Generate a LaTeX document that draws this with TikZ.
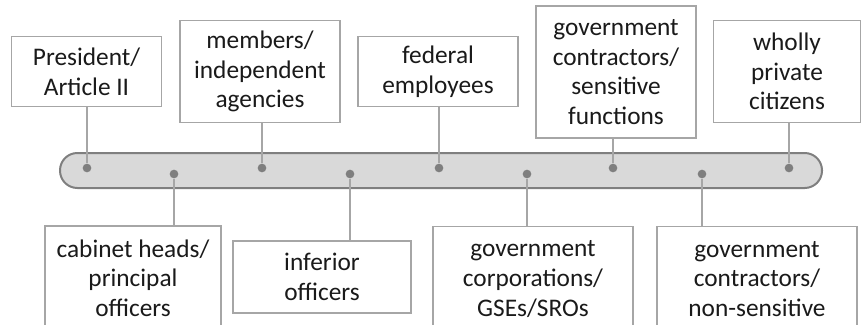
\documentclass[tikz,border=0pt]{standalone}
\usepackage{fontspec}
\setmainfont{Carlito}
\usetikzlibrary{positioning,calc}
\definecolor{barfill}{HTML}{D9D9D9}
\definecolor{barline}{HTML}{7F7F7F}
\definecolor{boxline}{HTML}{A6A6A6}
\definecolor{txt}{HTML}{1A1A1A}
\tikzset{
  bar/.style  = { draw=barline, fill=barfill, line width=1.5pt, rounded corners=13pt },
  dot/.style  = { fill=barline, circle, inner sep=0pt, minimum size=6.5pt },
  lbl/.style  = { draw=boxline, line width=0.9pt, fill=white, align=center, inner sep=1pt,
    text=txt, font=\fontsize{19}{22.2}\selectfont },
  conn/.style = { draw=boxline, line width=1pt }
}

\begin{document}
\begin{tikzpicture}[x=0.75pt,y=-0.75pt]
  \useasboundingbox (0,0) rectangle (861,325);
  \clip (0,0) rectangle (861,325);
  % the bar
  \draw[bar] (60,153) rectangle (822,188);
  \node[dot] (d1) at (87,168) {};
  \node[dot] (d2) at (174,174) {};
  \node[dot] (d3) at (262,168) {};
  \node[dot] (d4) at (350,174) {};
  \node[dot] (d5) at (439,168) {};
  \node[dot] (d6) at (527,174) {};
  \node[dot] (d7) at (613,168) {};
  \node[dot] (d8) at (702,174) {};
  \node[dot] (d9) at (789,168) {};

  % above the bar
  \node[lbl, minimum width=113pt, minimum height=53pt] (pres) at (86.5,71.5) {President/\\Article II};
  \node[lbl, minimum width=120pt, minimum height=76pt] (memb) at (260,71.5) {members/\\independent\\agencies};
  \node[lbl, minimum width=120pt, minimum height=53pt] (fed) at (438,71.5) {federal\\employees};
  \node[lbl, minimum width=120pt, minimum height=99pt] (sens) at (616,72) {government\\contractors/\\sensitive\\functions};
  \node[lbl, minimum width=110pt, minimum height=76pt] (priv) at (787,71.5) {wholly\\private\\citizens};

  % below the bar
  \node[lbl, minimum width=132pt, minimum height=78pt] (cab) at (133,278) {cabinet heads/\\principal\\officers};
  \node[lbl, minimum width=133.5pt, minimum height=54pt] (inf) at (322,277) {inferior\\officers};
  \node[lbl, minimum width=150pt, minimum height=79pt] (corp) at (533,279) {government\\corporations/\\GSEs/SROs};
  \node[lbl, minimum width=150pt, minimum height=79pt] (nons) at (757,279) {government\\contractors/\\non-sensitive};

  \path[conn] (d1 |- pres.south) edge (d1);
  \path[conn] (d3 |- memb.south) edge (d3);
  \path[conn] (d5 |- fed.south) edge (d5);
  \path[conn] (d7 |- sens.south) edge (d7);
  \path[conn] (d9 |- priv.south) edge (d9);
  \path[conn] (d2) edge (d2 |- cab.north);
  \path[conn] (d4) edge (d4 |- inf.north);
  \path[conn] (d6) edge (d6 |- corp.north);
  \path[conn] (d8) edge (d8 |- nons.north);
\end{tikzpicture}
\end{document}
